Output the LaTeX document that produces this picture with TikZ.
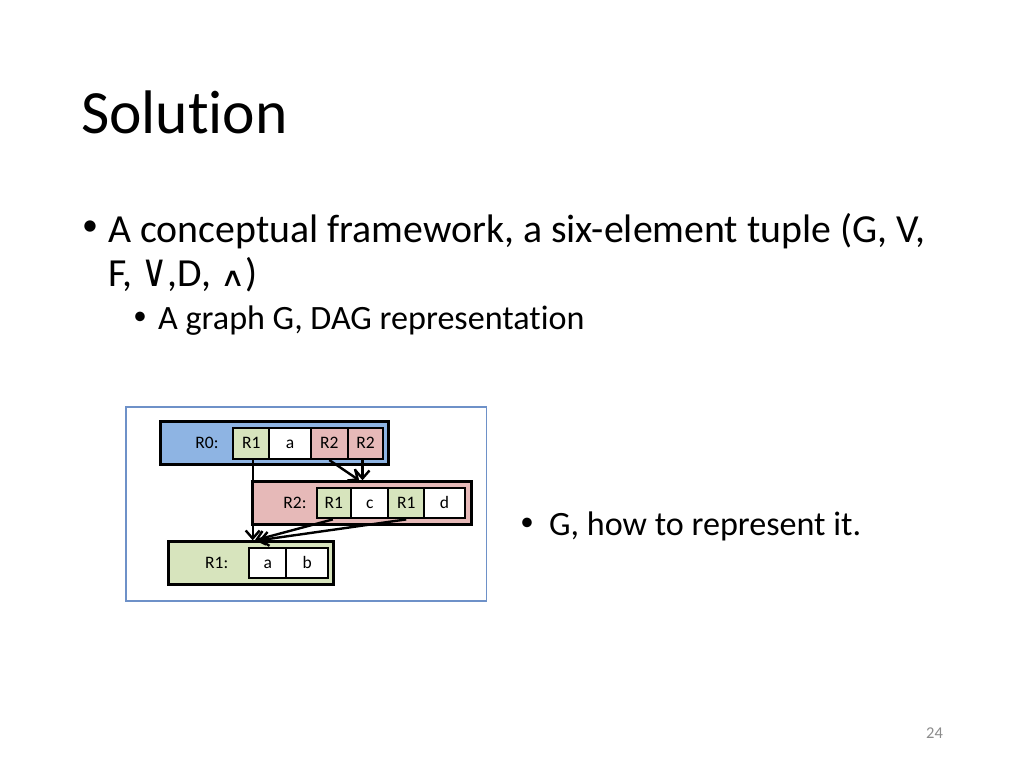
\documentclass[tikz,border=0pt]{standalone}
\usepackage{fontspec}
\usepackage{graphicx}
\setmainfont{Carlito}[Ligatures={NoCommon,NoContextual}]
\newfontfamily\symf{DejaVu Sans}
\usetikzlibrary{arrows.meta,calc}
\definecolor{frameblue}{RGB}{110,145,200}
\definecolor{rzero}{RGB}{142,180,227}
\definecolor{rtwo}{RGB}{230,185,184}
\definecolor{rone}{RGB}{215,228,189}
\definecolor{pagegray}{RGB}{140,140,140}
\tikzset{
  box/.style={draw=black, line width=2.8pt, inner sep=0pt},
  cell/.style={draw=black, line width=2.2pt, inner sep=0pt, text height=12.4pt, text depth=1.2pt, font=\fontsize{17.5}{19}\selectfont},
  lab/.style={inner sep=0pt, text height=12.4pt, text depth=1.2pt, font=\fontsize{17.5}{19}\selectfont},
  arr/.style={line width=2.4pt, -{Straight Barb[length=8pt,width=14pt,line width=2.4pt]}},
  txt/.style={anchor=base west, inner sep=0pt},
  bul/.style={anchor=center, inner sep=0pt},
}
\begin{document}
\begin{tikzpicture}[x=1pt,y=-1pt]
\useasboundingbox[fill=white] (0,0) rectangle (1024,768);
% title
\node[txt, font=\fontsize{61.5}{74}\selectfont] (title) at (81,133.3) {Solution};
% bullets
\node[bul, font=\fontsize{32}{36}\selectfont] (b1) at (90,228.5) {•};
\node[txt, font=\fontsize{39.8}{48}\selectfont] (t1) at (108,242.3) {A conceptual framework, a six-element tuple (G, V,};
\node[txt, font=\fontsize{39.8}{48}\selectfont] (t2) at (108,286) {F, \scalebox{0.95}[1.2]{\symf\fontsize{38}{38}\selectfont ∨},D, \scalebox{1.05}[0.8]{\symf\fontsize{33}{33}\selectfont ∧})};
\node[bul, font=\fontsize{27}{30}\selectfont] (b2) at (140,318.5) {•};
\node[txt, font=\fontsize{34.1}{40}\selectfont] (t3) at (158,329.3) {A graph G, DAG representation};
\node[bul, font=\fontsize{27}{30}\selectfont] (b3) at (527,524) {•};
\node[txt, font=\fontsize{34.1}{40}\selectfont] (t4) at (549,535) {G, how to represent it.};
\node[txt, font=\fontsize{16.5}{20}\selectfont, text=pagegray] (pg) at (926,738.5) {24};
% frame
\node[draw=frameblue, line width=1.3pt, fill=white, minimum width=360.5pt, minimum height=194pt, inner sep=0pt] (frame) at (306.25,504) {};
% R0
\node[box, fill=rzero, minimum width=227.6pt, minimum height=42.6pt] (r0box) at (274.5,443) {};
\node[lab] (r0lab) at (207,443) {R0:};
\node[cell, fill=rone, minimum width=35.7pt, minimum height=31.3pt] (r0c1) at (251.2,443.3) {R1};
\node[cell, fill=white, minimum width=42pt, minimum height=31.3pt] (r0c2) at (290,443.3) {a};
\node[cell, fill=rtwo, minimum width=36.7pt, minimum height=31.3pt] (r0c3) at (329.3,443.3) {R2};
\node[cell, fill=rtwo, minimum width=35.6pt, minimum height=31.3pt] (r0c4) at (365.5,443.3) {R2};
% R2
\node[box, fill=rtwo, minimum width=219pt, minimum height=42.6pt] (r2box) at (362.2,503) {};
\node[lab] (r2lab) at (295,503) {R2:};
\node[cell, fill=rone, minimum width=34.3pt, minimum height=30pt] (r2c1) at (333.8,503.3) {R1};
\node[cell, fill=white, minimum width=37.3pt, minimum height=30pt] (r2c2) at (369.7,503.3) {c};
\node[cell, fill=rone, minimum width=35.7pt, minimum height=30pt] (r2c3) at (406.2,503.3) {R1};
\node[cell, fill=white, minimum width=41pt, minimum height=30pt] (r2c4) at (444.5,503.3) {d};
% R1
\node[box, fill=rone, minimum width=165pt, minimum height=42.6pt] (r1box) at (250.8,563) {};
\node[lab] (r1lab) at (216.7,563) {R1:};
\node[cell, fill=white, minimum width=36.7pt, minimum height=30pt] (r1c1) at (267.7,562.7) {a};
\node[cell, fill=white, minimum width=42.3pt, minimum height=30pt] (r1c2) at (307.2,562.7) {b};
% arrows
\draw[arr] ([xshift=1.5pt]r0c1.south) -- ([xshift=1.5pt]r0c1.south |- r1box.north);
\draw[arr] (r0c3.south) -- ([xshift=-3pt]r2box.north);
\draw[arr] ([xshift=-3pt]r0c4.south) -- ([xshift=-3pt]r0c4.south |- r2box.north);
\draw[arr] ([xshift=-1pt]r2c1.south) -- ([xshift=4pt]r1box.north);
\draw[arr] (r2c3.south) -- ([xshift=8pt]r1box.north);
\end{tikzpicture}
\end{document}
